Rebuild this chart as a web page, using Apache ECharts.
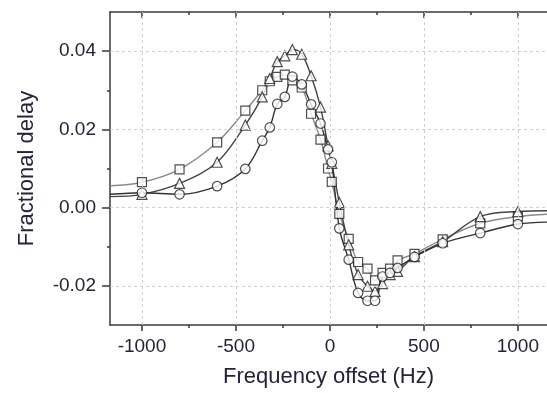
<!DOCTYPE html>
<html>
<head>
<meta charset="utf-8">
<script src="https://cdn.jsdelivr.net/npm/echarts@6/dist/echarts.min.js"></script>
<style>html,body{margin:0;padding:0;background:#fff}#c{width:547px;height:393px}</style>
</head>
<body>
<div id="c"></div>
<script>
// ---- data ----
const freqs = [-1000,-800,-600,-450,-360,-320,-280,-240,-200,-150,-100,-50,-10,10,50,100,150,200,240,280,320,360,450,600,800,1000];
const squares = [0.0065,0.0098,0.0167,0.0248,0.0300,0.0323,0.0334,0.0340,0.0325,0.0307,0.0240,0.0174,0.0100,0.0066,-0.0016,-0.0080,-0.0139,-0.0156,-0.0186,-0.0167,-0.0156,-0.0135,-0.0118,-0.0081,-0.0040,-0.0023];
const triangles = [0.0034,0.0062,0.0116,0.0211,0.0283,0.0330,0.0373,0.0388,0.0404,0.0392,0.0337,0.0257,0.0158,0.0113,0.0013,-0.0095,-0.0171,-0.0201,-0.0214,-0.0194,-0.0171,-0.0163,-0.0125,-0.0087,-0.0023,-0.0010];
const circles = [0.0038,0.0034,0.0055,0.0099,0.0171,0.0205,0.0265,0.0283,0.0335,0.0315,0.0264,0.0215,0.0149,0.0116,-0.0053,-0.0133,-0.0218,-0.0238,-0.0238,-0.0176,-0.0167,-0.0154,-0.0126,-0.0091,-0.0065,-0.0042];
// fitted-curve end values at the plot edges [left, right]
const edgeX = [-1170, 1155];
const squareEdges = [0.0056, -0.0017];
const triangleEdges = [0.0028, -0.0008];
const circleEdges = [0.0034, -0.0037];
// ticks
const xTicks = [-1000,-500,0,500,1000];
const xMinor = [-750,-250,250,750];
const yTicks = [-0.02,0,0.02,0.04];
const yMinor = [-0.01,0.01,0.03];

const pts = (ys) => freqs.map((f,i)=>[f, ys[i]]);
const fit = (ys, e) => [[edgeX[0], e[0]]].concat(pts(ys), [[edgeX[1], e[1]]]);

const txt = '#23233a';
const axc = '#3a3a3a';
const font = 'Liberation Sans, Arial, sans-serif';

function xAx(pos, ticks, len, inside, line, labels, extra) {
  return Object.assign({
    type:'value', min:-1170, max:1155, position:pos,
    axisLine:{show:line, onZero:false, lineStyle:{color:axc, width:1.5}},
    axisTick:{show:true, customValues:ticks, length:len, inside:inside, lineStyle:{color:axc, width:1.5}},
    axisLabel:labels ? {customValues:ticks, color:txt, fontSize:19, fontFamily:font, margin:12,
      formatter:(v)=>String(v)} : {show:false},
    splitLine:{show:false}
  }, extra||{});
}
function yAx(ticks, len, line, labels, extra) {
  return Object.assign({
    type:'value', min:-0.03, max:0.05, position:'left',
    axisLine:{show:line, onZero:false, lineStyle:{color:axc, width:1.5}},
    axisTick:{show:true, customValues:ticks, length:len, inside:false, lineStyle:{color:axc, width:1.5}},
    axisLabel:labels ? {customValues:ticks, color:txt, fontSize:19, fontFamily:font, margin:14,
      formatter:(v)=>v.toFixed(2)} : {show:false},
    splitLine:{show:false}
  }, extra||{});
}

const gridStyle = {color:'#d0d0d0', type:[3,3], width:1};
const markerStyle = {color:'#fff', borderColor:'#222', borderWidth:1.2};

const option = {
  animation:false,
  backgroundColor:'#fff',
  grid:{left:110, right:0, top:12, bottom:66, containLabel:false},
  xAxis:[
    xAx('bottom', xTicks, 6, false, true, true, {
      name:'Frequency offset (Hz)', nameLocation:'middle', nameGap:41,
      nameTextStyle:{color:txt, fontSize:22, fontFamily:font}}),
    xAx('bottom', xMinor, 3, false, false, false),
    xAx('top', xTicks, 6, true, true, false),
    xAx('top', xMinor, 3, true, false, false)
  ],
  yAxis:[
    yAx(yTicks, 8, true, true, {
      name:'Fractional delay', nameLocation:'middle', nameGap:72,
      nameTextStyle:{color:txt, fontSize:22, fontFamily:font}}),
    yAx(yMinor, 3, false, false)
  ],
  series:[
    {type:'scatter', data:[], z:1, silent:true,
     markLine:{silent:true, symbol:'none', label:{show:false}, lineStyle:gridStyle, animation:false,
       data: xTicks.map(v=>({xAxis:v})).concat(yTicks.map(v=>({yAxis:v})))}},
    {type:'line', data:fit(squares, squareEdges), smooth:0.35, showSymbol:false, z:2,
     lineStyle:{color:'#8a8a8a', width:1.4}},
    {type:'line', data:fit(triangles, triangleEdges), smooth:0.35, showSymbol:false, z:2,
     lineStyle:{color:'#444', width:1.4}},
    {type:'line', data:fit(circles, circleEdges), smooth:0.35, showSymbol:false, z:2,
     lineStyle:{color:'#333', width:1.4}},
    {type:'scatter', data:pts(squares), symbol:'rect', symbolSize:9, z:3, itemStyle:markerStyle},
    {type:'scatter', data:pts(triangles), symbol:'triangle', symbolSize:[10,10], z:4, itemStyle:markerStyle},
    {type:'scatter', data:pts(circles), symbol:'circle', symbolSize:9.5, z:5, itemStyle:markerStyle}
  ]
};
const chart = echarts.init(document.getElementById('c'), null, {renderer:'canvas'});
chart.setOption(option);
</script>
</body>
</html>
